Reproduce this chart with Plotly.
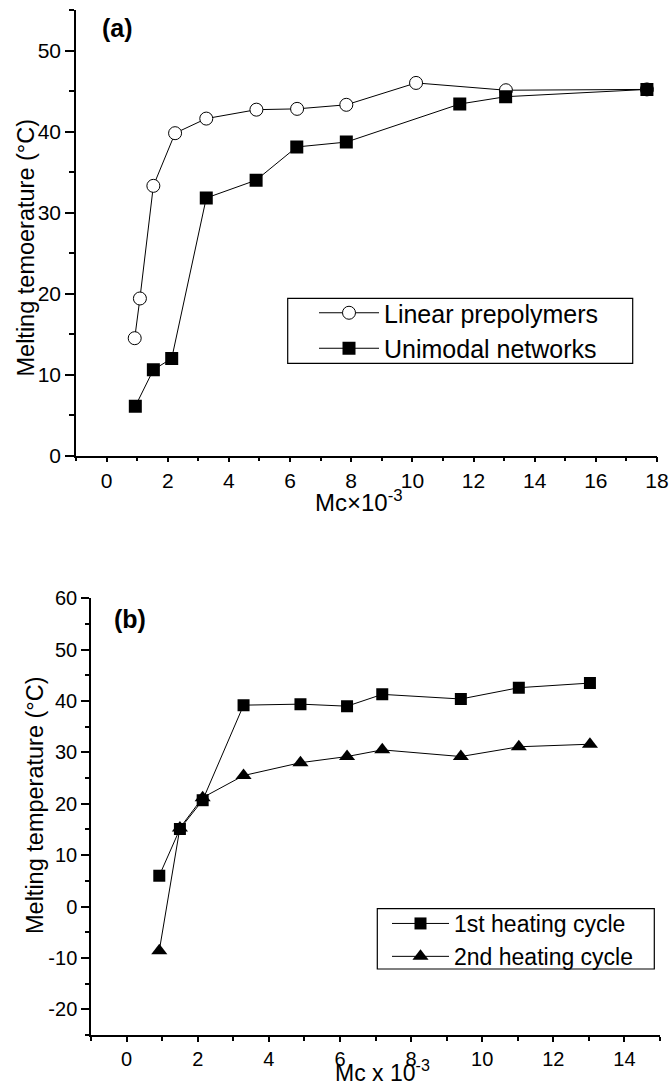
import plotly.graph_objects as go

# Panel (a): melting temperature vs. Mc x 10^-3
mc_linear = [0.92, 1.09, 1.53, 2.24, 3.26, 4.90, 6.23, 7.84, 10.12, 13.06, 17.67]
tm_linear = [14.5, 19.4, 33.3, 39.8, 41.6, 42.7, 42.8, 43.3, 46.0, 45.1, 45.2]
mc_network = [0.94, 1.53, 2.13, 3.26, 4.89, 6.22, 7.84, 11.55, 13.05, 17.67]
tm_network = [6.1, 10.6, 12.0, 31.8, 34.0, 38.1, 38.7, 43.4, 44.3, 45.2]

# Panel (b): first and second heating cycles
mc_cycle = [0.92, 1.50, 2.14, 3.29, 4.89, 6.20, 7.19, 9.40, 11.03, 13.03]
tm_first = [6.0, 15.1, 20.7, 39.2, 39.4, 39.0, 41.3, 40.4, 42.6, 43.5]
tm_second = [-8.6, 15.3, 21.2, 25.5, 28.0, 29.2, 30.5, 29.2, 31.1, 31.6]

# Panel (b) temperature ticks, written with a plain hyphen for negatives
tb_tickvals = [-20, -10, 0, 10, 20, 30, 40, 50, 60]
tb_ticktext = ["-20", "-10", "0", "10", "20", "30", "40", "50", "60"]

FONT = "Liberation Sans, Arial, sans-serif"
W, H = 670, 1088


def px(x):
    return x / W


def py(y):
    return 1 - y / H


fig = go.Figure()

line = dict(color="black", width=1)

fig.add_trace(go.Scatter(
    x=mc_linear, y=tm_linear, mode="lines+markers", name="Linear prepolymers",
    line=line,
    marker=dict(symbol="circle", size=13, color="white",
                line=dict(color="black", width=1)),
    xaxis="x", yaxis="y", legend="legend"))
fig.add_trace(go.Scatter(
    x=mc_network, y=tm_network, mode="lines+markers", name="Unimodal networks",
    line=line,
    marker=dict(symbol="square", size=13, color="black",
                line=dict(color="black", width=0)),
    xaxis="x", yaxis="y", legend="legend"))

fig.add_trace(go.Scatter(
    x=mc_cycle, y=tm_first, mode="lines+markers", name="1st heating cycle",
    line=line,
    marker=dict(symbol="square", size=12, color="black",
                line=dict(color="black", width=0)),
    xaxis="x2", yaxis="y2", legend="legend2"))
fig.add_trace(go.Scatter(
    x=mc_cycle, y=tm_second, mode="lines+markers", name="2nd heating cycle",
    line=line,
    marker=dict(symbol="triangle-up", size=14, color="black",
                line=dict(color="black", width=0)),
    xaxis="x2", yaxis="y2", legend="legend2"))

axis_common = dict(
    showline=True, linecolor="black", linewidth=1.5,
    showgrid=False, zeroline=False, automargin=False,
    ticks="outside", tickcolor="black", tickwidth=1.5,
    color="black",
)

fig.update_layout(
    template="none",
    width=W, height=H,
    margin=dict(l=0, r=0, t=0, b=0, pad=0),
    paper_bgcolor="white", plot_bgcolor="white",
    font=dict(family=FONT, color="black"),
    xaxis=dict(
        axis_common, domain=[px(76), px(657)], anchor="y",
        range=[-1, 18], tick0=0, dtick=2, ticklen=5,
        tickfont=dict(size=21, family=FONT),
        minor=dict(dtick=1, ticklen=4, ticks="outside",
                   tickcolor="black", tickwidth=1.5, showgrid=False),
    ),
    yaxis=dict(
        axis_common, domain=[py(455.7), py(10)], anchor="x",
        range=[0, 55], tick0=0, dtick=10, ticklen=9,
        tickfont=dict(size=21, family=FONT),
        minor=dict(dtick=5, ticklen=5, ticks="outside",
                   tickcolor="black", tickwidth=1.5, showgrid=False),
    ),
    xaxis2=dict(
        axis_common, domain=[px(91), px(660)], anchor="y2",
        range=[-1, 15], tick0=0, dtick=2, ticklen=5,
        tickfont=dict(size=20, family=FONT),
        minor=dict(dtick=1, ticklen=4, ticks="outside",
                   tickcolor="black", tickwidth=1.5, showgrid=False),
    ),
    yaxis2=dict(
        axis_common, domain=[py(1035), py(598.3)], anchor="x2",
        range=[-25, 60], tickmode="array",
        tickvals=tb_tickvals, ticktext=tb_ticktext, ticklen=8,
        tickfont=dict(size=20, family=FONT),
        minor=dict(tick0=-25, dtick=5, ticklen=4, ticks="outside",
                   tickcolor="black", tickwidth=1.5, showgrid=False),
    ),
    legend=dict(
        x=px(314), xanchor="left", y=py(290), yanchor="top",
        borderwidth=0, bgcolor="rgba(0,0,0,0)",
        font=dict(size=25, family=FONT), itemwidth=60,
    ),
    legend2=dict(
        x=px(387), xanchor="left", y=py(902), yanchor="top",
        borderwidth=0, bgcolor="rgba(0,0,0,0)",
        font=dict(size=23, family=FONT), itemwidth=57,
    ),
    showlegend=True,
)

# legend frames
for x0, y0, x1, y1 in [(287.7, 298.3, 632.7, 363.3),
                       (377.3, 908.7, 654.3, 969.0)]:
    fig.add_shape(type="rect", xref="paper", yref="paper",
                  x0=px(x0), x1=px(x1), y0=py(y1), y1=py(y0),
                  line=dict(color="black", width=1.2),
                  fillcolor="rgba(0,0,0,0)", layer="above")

annotations = [
    dict(text="<b>(a)</b>", x=px(100), y=py(28), xanchor="left",
         yanchor="middle", font=dict(size=25)),
    dict(text="<b>(b)</b>", x=px(111.7), y=py(619), xanchor="left",
         yanchor="middle", font=dict(size=25)),
    dict(text="Melting temoerature (°C)", x=px(25), y=py(247.5),
         xanchor="center", yanchor="middle", textangle=-90,
         font=dict(size=23.5)),
    dict(text="Melting temperature (°C)", x=px(35), y=py(805),
         xanchor="center", yanchor="middle", textangle=-90,
         font=dict(size=23.5)),
    dict(text="Mc×10<sup>-3</sup>", x=px(313), y=py(501), xanchor="left",
         yanchor="middle", font=dict(size=24)),
    dict(text="Mc x 10<sup>-3</sup>", x=px(333), y=py(1071), xanchor="left",
         yanchor="middle", font=dict(size=23)),
]
for a in annotations:
    a.update(xref="paper", yref="paper", showarrow=False)
    a["font"]["family"] = FONT
    a["font"]["color"] = "black"
fig.update_layout(annotations=annotations)

fig.write_html("out.html")
